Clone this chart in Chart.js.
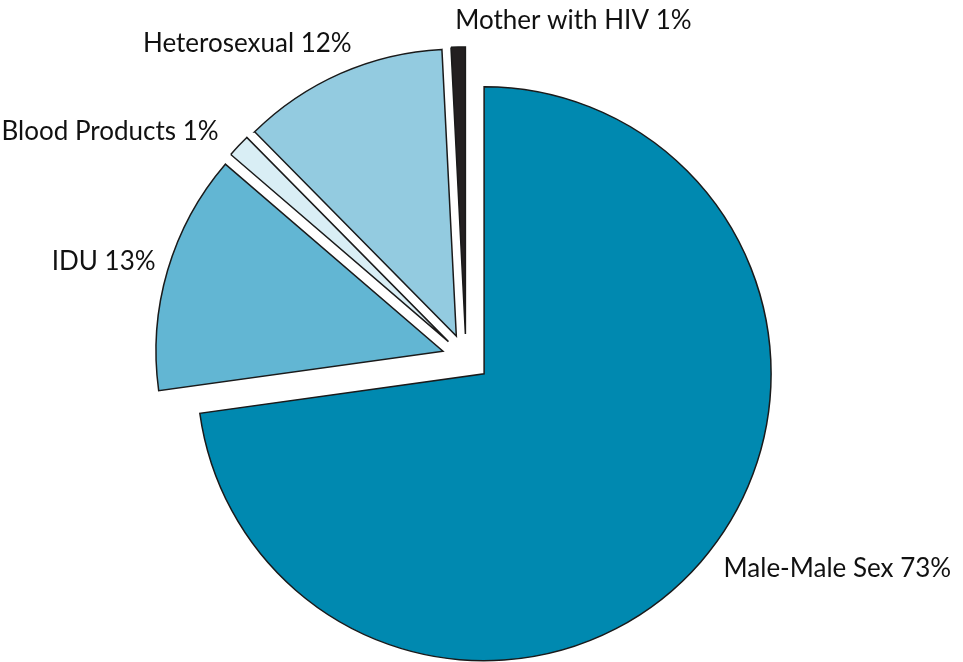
<!DOCTYPE html>
<html>
<head>
<meta charset="utf-8">
<script src="https://cdn.jsdelivr.net/npm/chart.js@4/dist/chart.umd.min.js"></script>
<style>
  html, body { margin: 0; padding: 0; background: #fff; }
  canvas { display: block; }
</style>
</head>
<body>
<canvas id="pieChart" width="963" height="662"></canvas>
<script>
// Slice data, clockwise from 12 o'clock
const categories = ['Male-Male Sex', 'IDU', 'Blood Products', 'Heterosexual', 'Mother with HIV'];
const shares = [72.8, 13.5, 1.3, 11.6, 0.8];
const shareLabels = ['73%', '13%', '1%', '12%', '1%'];

const sliceColors = ['#0089b0', '#62b6d3', '#d9eef5', '#93cbe0', '#231f20'];
const explodeBy = [24, 24, 24, 24, 24];
// label nudge from the outer edge point of each slice
const labelNudge = [[23, 15], [-12, 0], [-20, -6], [11, -21], [-3, -18]];

// Push every slice out from the common centre along its middle angle
const explodePlugin = {
    id: 'explode',
    afterDatasetUpdate(chart, args) {
        args.meta.data.forEach((arc, i) => {
            const mid = (arc.startAngle + arc.endAngle) / 2;
            arc.x += Math.cos(mid) * explodeBy[i];
            arc.y += Math.sin(mid) * explodeBy[i];
        });
    }
};

// Draw "Category NN%" beside each slice
const sliceLabels = {
    id: 'sliceLabels',
    afterDatasetsDraw(chart) {
        const ctx = chart.ctx;
        const meta = chart.getDatasetMeta(0);
        ctx.save();
        ctx.font = '26px Lato';
        ctx.fillStyle = '#111';
        ctx.textBaseline = 'alphabetic';
        meta.data.forEach((arc, i) => {
            const mid = (arc.startAngle + arc.endAngle) / 2;
            const x = arc.x + Math.cos(mid) * arc.outerRadius + labelNudge[i][0];
            const y = arc.y + Math.sin(mid) * arc.outerRadius + labelNudge[i][1];
            ctx.textAlign = Math.cos(mid) > -0.1 ? 'left' : 'right';
            ctx.fillText(categories[i] + ' ' + shareLabels[i], x, y);
        });
        ctx.restore();
    }
};

const ctx = document.getElementById('pieChart').getContext('2d');
const chart = new Chart(ctx, {
    type: 'pie',
    data: {
        labels: categories,
        datasets: [{
            data: shares,
            backgroundColor: sliceColors,
            borderColor: '#1a1a1a',
            borderWidth: 1.5,
            borderJoinStyle: 'miter',
            radius: 287
        }]
    },
    options: {
        responsive: false,
        animation: false,
        layout: {
            padding: { left: 0, right: 31, top: 54, bottom: 0 }
        },
        plugins: {
            legend: { display: false },
            tooltip: { enabled: false }
        }
    },
    plugins: [explodePlugin, sliceLabels]
});
</script>
</body>
</html>
